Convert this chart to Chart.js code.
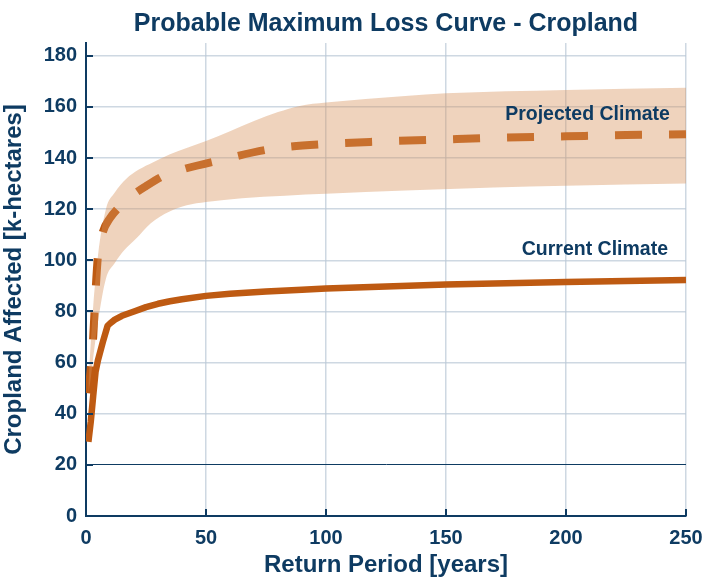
<!DOCTYPE html>
<html>
<head>
<meta charset="utf-8">
<script src="https://cdn.jsdelivr.net/npm/chart.js@4.4.1/dist/chart.umd.min.js"></script>
<style>
html,body{margin:0;padding:0;background:#fff;}
#wrap{width:704px;height:577px;}
</style>
</head>
<body>
<div id="wrap"><canvas id="c" width="704" height="577"></canvas></div>
<script>
const currentPeriods = [1,2,3,4,5,7,9,10,12,15,20,25,30,35,40,50,60,75,90,100,125,150,175,200,225,250];
const currentClimate = [29,37,47,56.5,61,68,74.4,75.3,76.8,78.3,80,81.7,83,84,84.8,86.1,86.9,87.8,88.5,89,89.8,90.5,91,91.5,91.9,92.3];

const projectedPeriods = [1,2,3,4,5,7,10,14,18,25,32.5,40,55,77,100,124,150,175,200,225,250];
const projectedClimate = [48,58,70,88,102,111,116.5,121,124.5,129,133.1,135.5,139,143.5,145.5,146.5,147.3,148,148.5,149,149.3];

const bandUpperPeriods = [1,2,3,5,8.3,12,16.7,22,27.8,35,50,60,70,80,89,100,133,150,200,250];
const projectedUpper = [52,68,82,102,120,126.5,131.8,135.5,138.3,141.5,146.7,150.5,154.5,158,160.4,161.7,164.3,165.3,166.6,167.5];
const bandLowerPeriods = [1,2,3,5,8.3,12,16,20.8,27,34.6,42,50,65,83,100,133,170,200,250];
const projectedLower = [48,54,62,76,92.8,99,104,108.4,114.5,119,121.5,122.8,124.3,125.3,126,127.3,128.5,129.2,130];

const yTickValues = [0,20,40,60,80,100,120,140,160,180];
const xTickValues = [0,50,100,150,200,250];

const NAVY = '#0E3B62';
const ORANGE = '#BE5A12';
const FONT = '"Liberation Sans", Arial, Helvetica, sans-serif';

const pts = (xs, ys) => xs.map((x, i) => ({x: x, y: ys[i]}));

const decorations = {
  id: 'decorations',
  afterDraw(chart, args, opts) {
    const ctx = chart.ctx, xs = chart.scales.x, ys = chart.scales.y, a = chart.chartArea;
    ctx.save();
    ctx.strokeStyle = NAVY; ctx.lineWidth = 2;
    yTickValues.forEach(v => {
      const py = Math.round(ys.getPixelForValue(v));
      ctx.beginPath(); ctx.moveTo(a.left, py); ctx.lineTo(a.left + 7, py); ctx.stroke();
    });
    xTickValues.forEach(v => {
      const px = Math.round(xs.getPixelForValue(v));
      ctx.beginPath(); ctx.moveTo(px, a.bottom); ctx.lineTo(px, a.bottom - 7); ctx.stroke();
    });
    ctx.fillStyle = NAVY;
    ctx.font = 'bold 19.5px ' + FONT;
    ctx.textAlign = 'right'; ctx.textBaseline = 'middle';
    opts.labels.forEach(l => {
      ctx.fillText(l.text, xs.getPixelForValue(l.x), ys.getPixelForValue(l.y));
    });
    ctx.font = 'bold 25px ' + FONT;
    ctx.textAlign = 'center'; ctx.textBaseline = 'alphabetic';
    ctx.fillText(opts.title, (a.left + a.right) / 2, 31);
    ctx.restore();
  }
};

new Chart(document.getElementById('c'), {
  type: 'line',
  data: {
    datasets: [
      {label: 'lower', data: pts(bandLowerPeriods, projectedLower), borderWidth: 0, pointRadius: 0, fill: false, borderColor: 'rgba(0,0,0,0)', cubicInterpolationMode: 'monotone'},
      {label: 'upper', data: pts(bandUpperPeriods, projectedUpper), borderWidth: 0, pointRadius: 0, fill: '-1', backgroundColor: 'rgba(215,145,90,0.40)', borderColor: 'rgba(0,0,0,0)', cubicInterpolationMode: 'monotone'},
      {label: 'Projected Climate', data: pts(projectedPeriods, projectedClimate), borderColor: ORANGE, borderWidth: 8, borderDash: [27, 27], borderCapStyle: 'butt', pointRadius: 0, fill: false, cubicInterpolationMode: 'monotone'},
      {label: 'Current Climate', data: pts(currentPeriods, currentClimate), borderColor: ORANGE, borderWidth: 6.5, pointRadius: 0, fill: false, tension: 0, borderJoinStyle: 'round'}
    ]
  },
  options: {
    responsive: false,
    animation: false,
    layout: {padding: {left: 0, right: 18, top: 43, bottom: 0}},
    plugins: {
      legend: {display: false},
      tooltip: {enabled: false},
      title: {display: false},
      decorations: {
        title: 'Probable Maximum Loss Curve - Cropland',
        labels: [{text: 'Projected Climate', x: 243.3, y: 156.9}, {text: 'Current Climate', x: 242.5, y: 104.3}]
      }
    },
    scales: {
      x: {
        type: 'linear', min: 0, max: 250,
        afterBuildTicks: s => { s.ticks = xTickValues.map(v => ({value: v})); },
        afterFit: s => { s.height = 61; s.paddingRight = 0; s.paddingLeft = 0; },
        ticks: {color: NAVY, font: {family: FONT, size: 20, weight: 'bold'}, padding: 10, maxRotation: 0},
        grid: {color: 'rgba(185,199,213,0.7)', lineWidth: 1.5, drawTicks: false},
        border: {color: NAVY, width: 2},
        title: {display: true, text: 'Return Period [years]', color: NAVY, font: {family: FONT, size: 24, weight: 'bold', lineHeight: 1.0}, padding: {top: 2, bottom: 0}}
      },
      y: {
        type: 'linear', min: 0, max: 185,
        afterBuildTicks: s => { s.ticks = yTickValues.map(v => ({value: v})); },
        afterFit: s => { s.width = 86; },
        ticks: {color: NAVY, font: {family: FONT, size: 20, weight: 'bold'}, padding: 9},
        grid: {
          color: ctx => (ctx.tick && ctx.tick.value === 20) ? NAVY : 'rgba(185,199,213,0.7)',
          lineWidth: ctx => (ctx.tick && ctx.tick.value === 20) ? 1 : 1.5,
          drawTicks: false
        },
        border: {color: NAVY, width: 2},
        title: {display: true, text: 'Cropland Affected [k-hectares]', color: NAVY, font: {family: FONT, size: 24, weight: 'bold'}, padding: {top: 0, bottom: 4}}
      }
    }
  },
  plugins: [decorations]
});
</script>
</body>
</html>
